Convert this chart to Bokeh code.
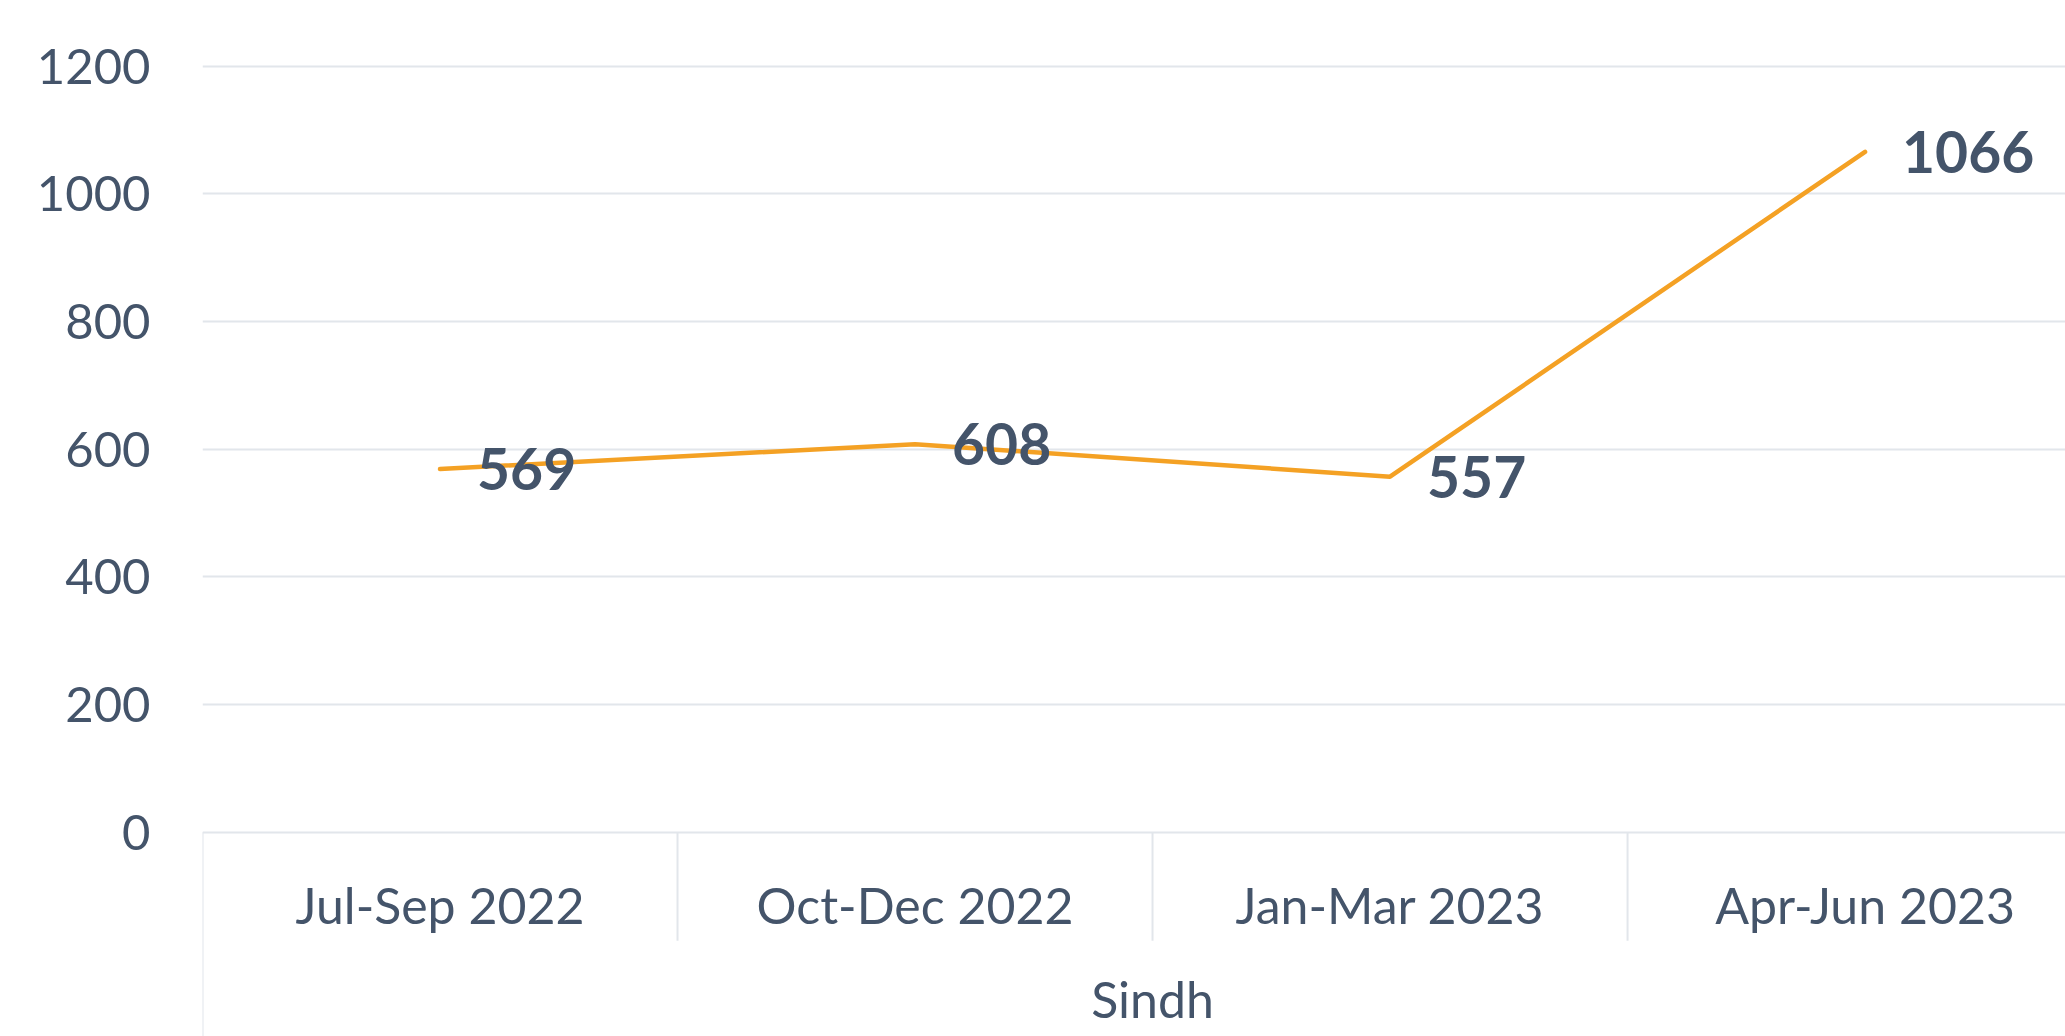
from bokeh.plotting import figure
from bokeh.models import Range1d, FixedTicker, ColumnDataSource
from bokeh.core.properties import value
from bokeh.embed import file_html
from bokeh.resources import INLINE

# ---- data ----
categories = ["Jul-Sep 2022", "Oct-Dec 2022", "Jan-Mar 2023", "Apr-Jun 2023"]
group_label = "Sindh"
values = [569, 608, 557, 1066]
y_ticks = [0, 200, 400, 600, 800, 1000, 1200]

TEXT = "#44546A"
GRID = "#E2E6EB"
LINE = "#F4A124"
FONT = "Lato"

n = len(categories)
xs = [i + 0.5 for i in range(n)]

p = figure(width=2065, height=1036, output_backend="svg", toolbar_location=None,
           x_range=Range1d(0, 3.922), y_range=Range1d(-320, 1303),
           x_axis_location=None, min_border_left=202, min_border_right=0,
           min_border_top=0, min_border_bottom=0)
p.outline_line_color = None
p.background_fill_color = "white"
p.border_fill_color = "white"
p.xgrid.visible = False
p.ygrid.grid_line_color = GRID
p.ygrid.grid_line_width = 2

ax = p.yaxis[0]
ax.ticker = FixedTicker(ticks=y_ticks)
ax.axis_line_color = None
ax.major_tick_line_color = None
ax.minor_tick_line_color = None
ax.major_tick_in = 0
ax.major_tick_out = 0
ax.major_label_standoff = 52
ax.major_label_text_font = FONT
ax.major_label_text_font_size = "49px"
ax.major_label_text_color = TEXT

# category separators (in the axis area below zero)
sep_x = list(range(n))
sep_bottom = [-320] + [-170] * (n - 1)
p.segment(x0=sep_x, y0=[0] * n, x1=sep_x, y1=sep_bottom, line_color=GRID, line_width=2)

# line
p.line(xs, values, line_color=LINE, line_width=4.5, line_cap="round", line_join="round")

# data labels
src = ColumnDataSource(dict(x=xs, y=values, t=[str(v) for v in values]))
p.text(x="x", y="y", text="t", source=src, x_offset=37, text_align="left",
       text_baseline="middle", text_font=value(FONT), text_font_style="bold",
       text_font_size="57px", text_color=TEXT)

# category labels
p.text(x=xs, y=[-114] * n, text=categories, text_align="center", text_baseline="middle",
       text_font=value(FONT), text_font_size="50px", text_color=TEXT)
p.text(x=[n / 2], y=[-262], text=[group_label], text_align="center", text_baseline="middle",
       text_font=value(FONT), text_font_size="50px", text_color=TEXT)

open("out.html", "w").write(file_html(p, INLINE))
